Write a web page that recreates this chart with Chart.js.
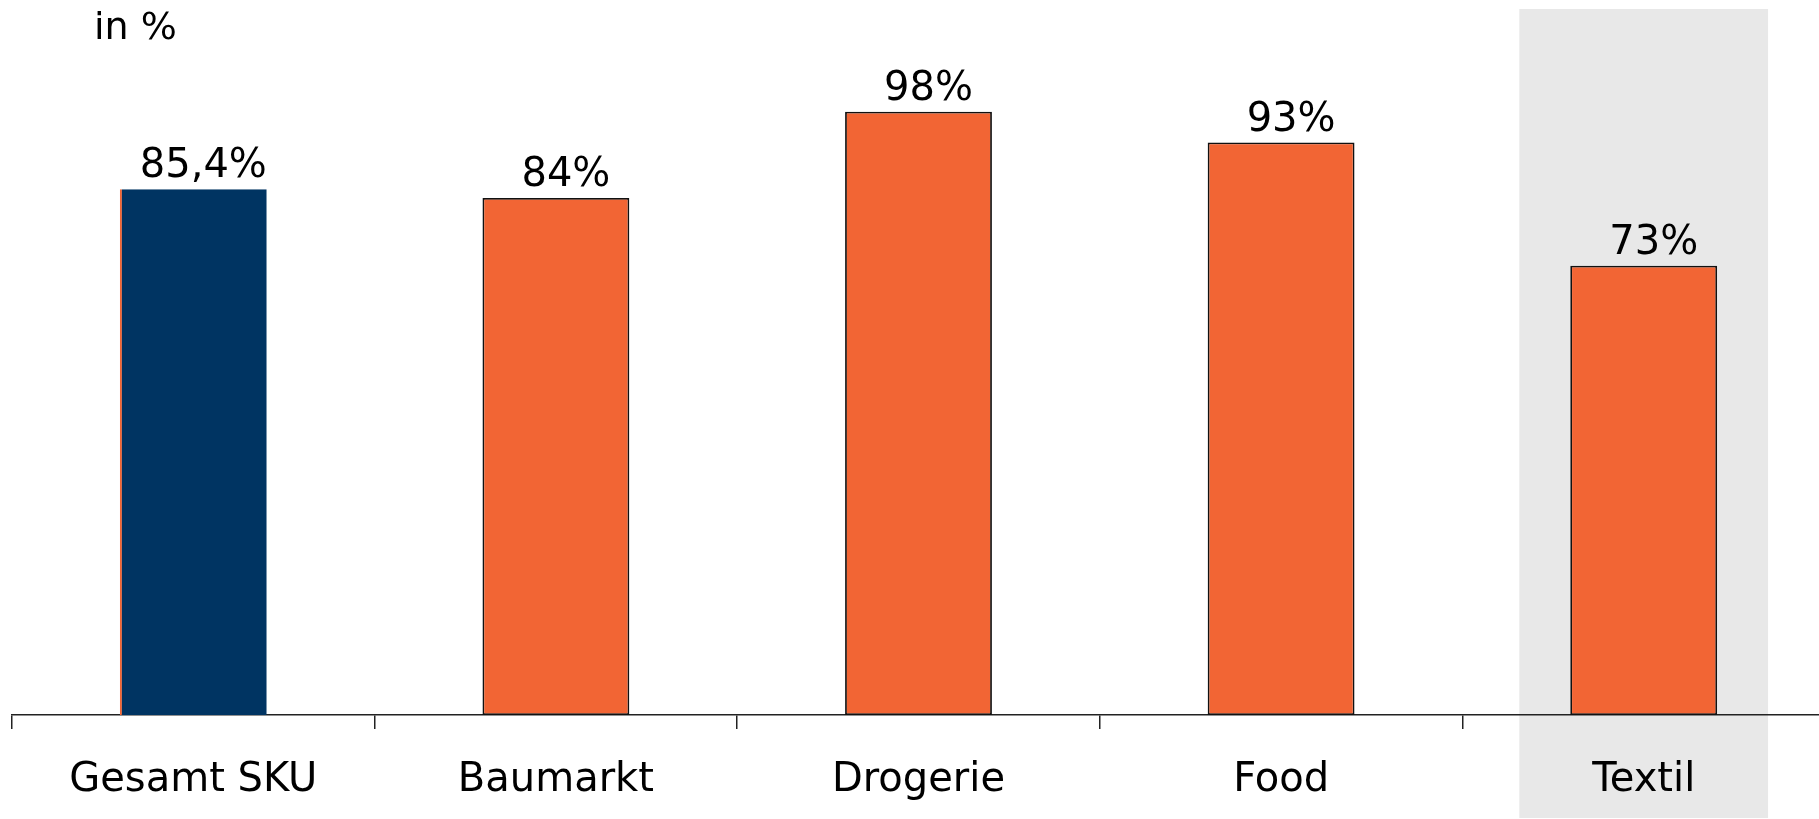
<!DOCTYPE html>
<html>
<head>
<meta charset="utf-8">
<script src="https://cdn.jsdelivr.net/npm/chart.js@4"></script>
<style>
  html, body { margin: 0; padding: 0; background: #fff; overflow: hidden; }
  #wrap { width: 1840px; height: 819px; position: relative; }
</style>
</head>
<body>
<div id="wrap"><canvas id="chart"></canvas></div>
<script>
/*************************************************
 * DATA
 *************************************************/
const categories = ["Gesamt SKU", "Baumarkt", "Drogerie", "Food", "Textil"];
const shares = [85.4, 84, 98, 93, 73];
const unitLabel = "in %";
const highlighted = "Textil";

/*************************************************
 * STYLE
 *************************************************/
const FONT = "'DejaVu Sans', Verdana, sans-serif";
const ORANGE = "#f26534";
const NAVY = "#003462";
const BAND = "#e8e8e8";

/*************************************************
 * PLUGINS
 *************************************************/
const highlightBand = {
  id: "highlightBand",
  beforeDraw(chart) {
    const x = chart.scales.x;
    const idx = categories.indexOf(highlighted);
    if (idx < 0) return;
    const step = x.width / categories.length;
    const cx = x.getPixelForValue(idx);
    const ctx = chart.ctx;
    ctx.save();
    ctx.fillStyle = BAND;
    ctx.fillRect(cx - step * 0.343, chart.chartArea.top, step * 0.686, chart.height - 1 - chart.chartArea.top);
    ctx.restore();
  }
};

const valueLabels = {
  id: "valueLabels",
  afterDatasetsDraw(chart) {
    const ctx = chart.ctx;
    const meta = chart.getDatasetMeta(0);
    ctx.save();
    ctx.font = "40px " + FONT;
    ctx.fillStyle = "#000";
    ctx.textAlign = "center";
    ctx.textBaseline = "alphabetic";
    meta.data.forEach((bar, i) => {
      const txt = shares[i].toLocaleString("de-DE") + "%";
      ctx.fillText(txt, bar.x + 10, bar.y - 12);
    });
    // unit label top left
    ctx.font = "38px " + FONT;
    ctx.textAlign = "left";
    ctx.fillText(unitLabel, 94, 39);
    ctx.restore();
  }
};

/*************************************************
 * CHART
 *************************************************/
new Chart(document.getElementById("chart"), {
  type: "bar",
  data: {
    labels: categories,
    datasets: [{
      data: shares,
      backgroundColor: ctx => ctx.dataIndex === 0 ? NAVY : ORANGE,
      borderColor: ctx => ctx.dataIndex === 0 ? ORANGE : "#111",
      borderWidth: ctx => ctx.dataIndex === 0
        ? { left: 2, top: 0, right: 0, bottom: 0 }
        : 1.8,
      borderSkipped: false,
      categoryPercentage: 1,
      barPercentage: 0.405
    }]
  },
  options: {
    responsive: true,
    maintainAspectRatio: false,
    animation: false,
    layout: { padding: { top: 9, left: 12, right: 15, bottom: 0 } },
    plugins: {
      legend: { display: false },
      tooltip: { enabled: false }
    },
    scales: {
      x: {
        afterFit(scale) { scale.height = 104; },
        grid: {
          display: true,
          offset: true,
          drawOnChartArea: false,
          drawTicks: true,
          tickLength: 14,
          color: "#222",
          lineWidth: 1.5
        },
        border: { display: true, color: "#222", width: 1.5 },
        ticks: {
          color: "#000",
          font: { family: FONT, size: 40 },
          padding: 28,
          maxRotation: 0,
          autoSkip: false
        }
      },
      y: {
        display: false,
        min: 0,
        max: 114.7
      }
    }
  },
  plugins: [highlightBand, valueLabels]
});
</script>
</body>
</html>
